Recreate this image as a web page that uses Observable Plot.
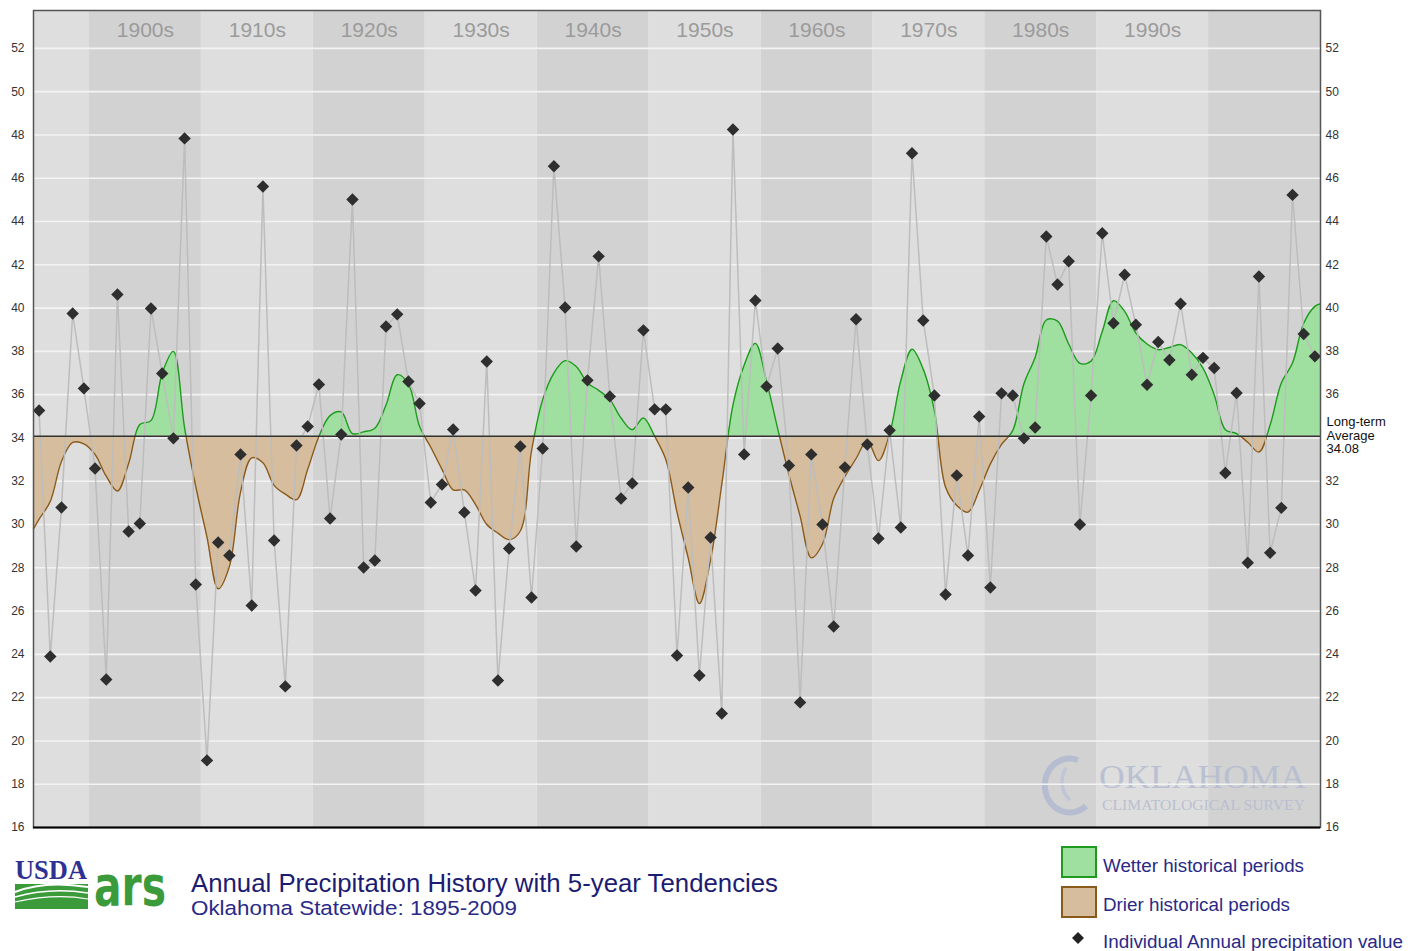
<!DOCTYPE html>
<html><head><meta charset="utf-8">
<script src="https://cdn.jsdelivr.net/npm/d3@7"></script>
<script src="https://cdn.jsdelivr.net/npm/@observablehq/plot@0.6"></script>
<style>
body{margin:0;background:#fff;width:1413px;height:951px;overflow:hidden;font-family:"Liberation Sans",Arial,sans-serif;position:relative}
#chart{position:absolute;left:0;top:0}
#footer{position:absolute;left:0;top:836px}
</style></head><body>
<div id="chart"></div>
<svg id="footer" width="1413" height="115" xmlns="http://www.w3.org/2000/svg">
  <g transform="translate(0,-836)">
    <!-- USDA ARS logo (approximation) -->
    <text x="15" y="879" font-family="'Liberation Serif','Times New Roman',serif" font-weight="bold" font-size="28" fill="#2e3192" textLength="72" lengthAdjust="spacingAndGlyphs">USDA</text>
    <rect x="15" y="884" width="73" height="25" fill="#3b9b3b"/>
    <path d="M15 892 Q45 880 88 887" stroke="#fff" stroke-width="2" fill="none"/>
    <path d="M15 897 Q50 887 88 893" stroke="#fff" stroke-width="1.5" fill="none"/>
    <path d="M15 902 Q55 893 88 899" stroke="#fff" stroke-width="1.2" fill="none"/>
    <text x="94" y="905" font-family="'DejaVu Sans',sans-serif" font-weight="bold" font-size="56" fill="#3b9b3b" textLength="72" lengthAdjust="spacingAndGlyphs">ars</text>
    <text x="191" y="892" font-family="'Liberation Sans',Arial,sans-serif" font-size="26" fill="#1c1c72" textLength="587" lengthAdjust="spacingAndGlyphs">Annual Precipitation History with 5-year Tendencies</text>
    <text x="191" y="915" font-family="'Liberation Sans',Arial,sans-serif" font-size="20.5" fill="#2a2a86" textLength="326" lengthAdjust="spacingAndGlyphs">Oklahoma Statewide:  1895-2009</text>
    <rect x="1062" y="847" width="34" height="30" fill="#9fdf9f" stroke="#1f9a1f" stroke-width="2"/>
    <rect x="1062" y="887" width="34" height="30" fill="#d5bd9d" stroke="#8b5a1b" stroke-width="2"/>
    <text x="1103" y="872" font-size="18" fill="#2a2a86" textLength="201" lengthAdjust="spacingAndGlyphs">Wetter historical periods</text>
    <text x="1103" y="911" font-size="18" fill="#2a2a86" textLength="187" lengthAdjust="spacingAndGlyphs">Drier historical periods</text>
    <path d="M1078 932 L1084 938 L1078 944 L1072 938 Z" fill="#222"/>
    <text x="1103" y="948" font-size="18" fill="#2a2a86" textLength="300" lengthAdjust="spacingAndGlyphs">Individual Annual precipitation value</text>
  </g>
</svg>
<script>
// ---- data ----
const firstYear = 1895;
const lastYear = 2009;
const years = d3.range(firstYear, lastYear + 1);

const precipitation = [
  35.27, 23.90, 30.79, 39.75, 36.29,                                     // 1895-1899
  32.59, 22.84, 40.63, 29.68, 30.05, 39.98, 36.98, 33.98, 47.84, 27.23, // 1900s
  19.10, 29.17, 28.57, 33.24, 26.26, 45.62, 29.26, 22.52, 33.65, 34.53, // 1910s
  36.47, 30.28, 34.16, 45.02, 28.01, 28.34, 39.15, 39.71, 36.61, 35.59, // 1920s
  31.02, 31.85, 34.39, 30.56, 26.95, 37.53, 22.79, 28.89, 33.61, 26.63, // 1930s
  33.51, 46.55, 40.03, 28.98, 36.66, 42.39, 35.92, 31.20, 31.90, 38.97, // 1940s
  35.32, 35.32, 23.95, 31.71, 23.02, 29.40, 21.27, 48.25, 33.24, 40.35, // 1950s
  36.38, 38.13, 32.73, 21.78, 33.24, 30.00, 25.29, 32.64, 39.48, 33.70, // 1960s
  29.35, 34.35, 29.86, 47.15, 39.43, 35.96, 26.77, 32.27, 28.57, 34.99, // 1970s
  27.09, 36.06, 35.96, 33.98, 34.48, 43.31, 41.09, 42.16, 30.00, 35.96, // 1980s
  43.46, 39.30, 41.54, 39.23, 36.46, 38.43, 37.60, 40.20, 36.92, 37.70, // 1990s
  37.23, 32.38, 36.08, 28.23, 41.46, 28.69, 30.77, 45.23, 38.80, 37.77  // 2000s
];

// 5-year tendency curve at each year
const tendency = [
  30.25, 31.07, 32.91, 33.79, 33.73,
  33.24, 32.23, 31.55, 32.82, 34.62, 34.80, 36.99, 38.00, 34.47, 31.75,
  29.42, 27.03, 28.06, 31.50, 33.08, 32.85, 31.81, 31.40, 31.15, 32.55,
  34.07, 35.03, 35.20, 34.20, 34.28, 34.45, 35.52, 36.92, 36.50, 34.53,
  33.57, 32.55, 31.60, 31.60, 30.92, 30.00, 29.60, 29.30, 29.70, 33.40,
  35.77, 37.00, 37.57, 37.30, 36.54, 36.20, 35.77, 34.92, 34.38, 34.92,
  34.08, 33.00, 30.57, 28.46, 26.35, 28.37, 31.85, 35.52, 37.36, 38.37,
  36.62, 34.42, 32.31, 30.39, 28.46, 29.10, 31.20, 32.22, 33.05, 33.87,
  32.95, 34.20, 36.65, 38.10, 37.18, 35.26, 31.72, 30.88, 30.57, 31.57,
  32.80, 33.70, 34.34, 36.50, 37.72, 39.45, 39.40, 38.34, 37.45, 37.55,
  38.92, 40.34, 39.85, 38.85, 38.34, 38.08, 38.18, 38.31, 37.92, 37.23,
  36.00, 34.38, 34.20, 33.80, 33.35, 34.60, 36.54, 37.46, 39.30, 40.08
];
const tendencyAtEdges = [29.8, 40.2]; // curve value at the left and right frame edges

const longTermAverage = 34.08;
const lightDecades = [1890, 1910, 1930, 1950, 1970, 1990];
const darkDecades = [1900, 1920, 1940, 1960, 1980, 2000];
const labelledDecades = [1900, 1910, 1920, 1930, 1940, 1950, 1960, 1970, 1980, 1990];
const yTicks = [16, 18, 20, 22, 24, 26, 28, 30, 32, 34, 36, 38, 40, 42, 44, 46, 48, 50, 52];
const rightTicks = [16, 18, 20, 22, 24, 26, 28, 30, 32, 36, 38, 40, 42, 44, 46, 48, 50, 52];

// ---- tables ----
const xStart = firstYear, xEnd = lastYear + 1;
const precipData = years.map((yr, i) => ({x: yr + 0.5, v: precipitation[i]}));
const trendData = [{x: xStart, v: tendencyAtEdges[0]}]
  .concat(years.map((yr, i) => ({x: yr + 0.5, v: tendency[i]})))
  .concat([{x: xEnd, v: tendencyAtEdges[1]}]);
const band = d => ({x1: Math.max(d, xStart), x2: Math.min(d + 10, xEnd)});

const chart = Plot.plot({
  width: 1413, height: 836,
  marginLeft: 33, marginRight: 93, marginTop: 10, marginBottom: 9,
  x: {domain: [xStart, xEnd], axis: null},
  y: {domain: [16, 53.75], axis: null},
  style: {fontFamily: "'Liberation Sans', Arial, sans-serif", background: "#fff", overflow: "visible"},
  marks: [
    Plot.rect(lightDecades.map(band), {x1: "x1", x2: "x2", fill: "#dedede"}),
    Plot.rect(darkDecades.map(band), {x1: "x1", x2: "x2", fill: "#d2d2d2"}),
    Plot.gridY(yTicks.slice(1), {stroke: "#f3f3f3", strokeOpacity: 1, strokeWidth: 1.6}),
    Plot.text(labelledDecades, {x: d => d + 5, frameAnchor: "top", dy: 12, text: d => d + "s", fill: "#9b9b9b", fontSize: 21}),
    Plot.areaY(trendData, {x: "x", y1: longTermAverage, y2: "v", curve: "catmull-rom", fill: "#9fdf9f", fillOpacity: 1, ariaDescription: "wet"}),
    Plot.areaY(trendData, {x: "x", y1: longTermAverage, y2: "v", curve: "catmull-rom", fill: "#d5bd9d", fillOpacity: 1, ariaDescription: "dry"}),
    Plot.line(trendData, {x: "x", y: "v", curve: "catmull-rom", stroke: "#1f9a1f", strokeWidth: 1.4, ariaDescription: "wet"}),
    Plot.line(trendData, {x: "x", y: "v", curve: "catmull-rom", stroke: "#8b5a1b", strokeWidth: 1.4, ariaDescription: "dry"}),
    Plot.line(precipData, {x: "x", y: "v", stroke: "#bdbdbd", strokeWidth: 1.5}),
    Plot.ruleY([longTermAverage], {stroke: "#333", strokeWidth: 1.5}),
    Plot.dot(precipData, {x: "x", y: "v", symbol: "diamond2", r: 5.6, fill: "#2e2e2e", stroke: "none"}),
    Plot.text([longTermAverage], {y: d => d, frameAnchor: "right", textAnchor: "start", dx: 6, dy: -1, lineAnchor: "middle", lineHeight: 1.05, fontSize: 13, fill: "#111", text: d => "Long-term\nAverage\n" + d}),
    Plot.axisY(yTicks, {anchor: "left", label: null, tickSize: 0, tickPadding: 9, fontSize: 12, fill: "#333"}),
    Plot.axisY(rightTicks, {anchor: "right", label: null, tickSize: 0, tickPadding: 5, fontSize: 12, fill: "#333"}),
    Plot.frame({stroke: "#555", strokeWidth: 1.5}),
    Plot.ruleY([16], {stroke: "#000", strokeWidth: 2})
  ]
});
document.getElementById("chart").appendChild(chart);

// ---- clip the tendency fills/lines at the long-term average ----
const svg = d3.select(chart);
const yAvg = chart.scale("y").apply(longTermAverage);
const defs = svg.insert("defs", ":first-child");
defs.append("clipPath").attr("id", "clip-wet").append("rect")
  .attr("x", 0).attr("y", 0).attr("width", 1413).attr("height", yAvg);
defs.append("clipPath").attr("id", "clip-dry").append("rect")
  .attr("x", 0).attr("y", yAvg).attr("width", 1413).attr("height", 836 - yAvg);
svg.selectAll("[aria-description='wet']").attr("clip-path", "url(#clip-wet)");
svg.selectAll("[aria-description='dry']").attr("clip-path", "url(#clip-dry)");

// ---- watermark (drawn beneath the grid) ----
const wm = svg.insert("g", "g[aria-label='y-grid']").attr("opacity", 0.9).attr("text-anchor", "start");
wm.append("path").attr("d", "M1078 760 A25 27 0 1 0 1086 806").attr("fill", "none").attr("stroke", "#b3bbd0").attr("stroke-width", 6);
wm.append("path").attr("d", "M1066 768 A18 22 0 0 0 1070 800").attr("fill", "none").attr("stroke", "#bcc4d8").attr("stroke-width", 3.5);
wm.append("text").attr("x", 1099).attr("y", 788).attr("font-family", "'Liberation Serif','Times New Roman',serif")
  .attr("font-size", 33).attr("fill", "#b5bdd0").attr("textLength", 207).attr("lengthAdjust", "spacingAndGlyphs").text("OKLAHOMA");
wm.append("text").attr("x", 1102).attr("y", 810).attr("font-family", "'Liberation Serif','Times New Roman',serif")
  .attr("font-size", 15).attr("fill", "#b5bdd0").attr("textLength", 203).attr("lengthAdjust", "spacingAndGlyphs").text("CLIMATOLOGICAL SURVEY");
</script>
</body></html>
